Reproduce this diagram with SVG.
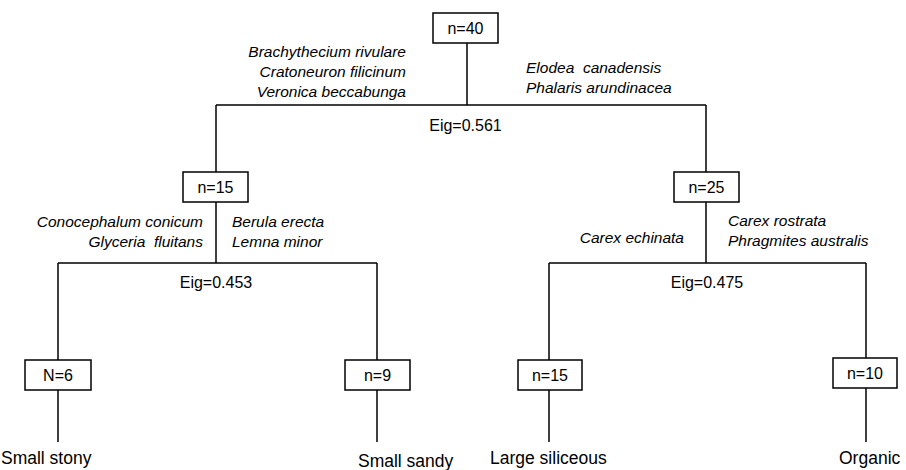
<svg xmlns="http://www.w3.org/2000/svg" width="906" height="470" viewBox="0 0 906 470">
<style>
.ln{stroke:#000;stroke-width:1.5;fill:none}
.bx{stroke:#000;stroke-width:1.5;fill:#fff}
.t{font-family:"Liberation Sans",Arial,sans-serif;font-size:16px;fill:#000}
.c{text-anchor:middle}
.it{font-family:"Liberation Sans",Arial,sans-serif;font-size:15.5px;font-style:italic;fill:#000}
.r{text-anchor:end}
.lb{font-family:"Liberation Sans",Arial,sans-serif;font-size:17.5px;fill:#000}
</style>
<rect width="906" height="470" fill="#fff"/>
<g id="connectors">
<path class="ln" d="M467 43V105M216 105H706M216 105V172M706 105V172"/>
<path class="ln" d="M216 202V263M58 263H377M58 263V360M377 263V360"/>
<path class="ln" d="M706 202V263M549 263H866M549 263V360M866 263V358"/>
<path class="ln" d="M58 390V442M377 390V442M549 390V442M866 388V442"/>
</g>
<g id="root">
<rect class="bx" x="433" y="13" width="65" height="30"/>
<text class="t c" x="465.5" y="34">n=40</text>
</g>
<g id="split1">
<text class="it r" x="406" y="57">Brachythecium rivulare</text>
<text class="it r" x="406" y="77">Cratoneuron filicinum</text>
<text class="it r" x="406" y="97">Veronica beccabunga</text>
<text class="it" x="526" y="73" xml:space="preserve">Elodea  canadensis</text>
<text class="it" x="526" y="93">Phalaris arundinacea</text>
<text class="t c" x="465.5" y="131">Eig=0.561</text>
</g>
<g id="n15a">
<rect class="bx" x="183" y="172" width="65" height="30"/>
<text class="t c" x="215.5" y="193">n=15</text>
</g>
<g id="n25">
<rect class="bx" x="674" y="172" width="65" height="30"/>
<text class="t c" x="706.5" y="193">n=25</text>
</g>
<g id="split2">
<text class="it r" x="203" y="227">Conocephalum conicum</text>
<text class="it r" x="203" y="247" xml:space="preserve">Glyceria  fluitans</text>
<text class="it" x="232" y="227">Berula erecta</text>
<text class="it" x="232" y="247">Lemna minor</text>
<text class="t c" x="216" y="288">Eig=0.453</text>
</g>
<g id="split3">
<text class="it r" x="684" y="243">Carex echinata</text>
<text class="it" x="728" y="226">Carex rostrata</text>
<text class="it" x="728" y="246">Phragmites australis</text>
<text class="t c" x="707" y="288">Eig=0.475</text>
</g>
<g id="n6">
<rect class="bx" x="25" y="360" width="66" height="30"/>
<text class="t c" x="58" y="381">N=6</text>
</g>
<g id="n9">
<rect class="bx" x="345" y="360" width="65" height="30"/>
<text class="t c" x="377.5" y="381">n=9</text>
</g>
<g id="n15b">
<rect class="bx" x="518" y="360" width="64" height="30"/>
<text class="t c" x="550" y="381">n=15</text>
</g>
<g id="n10">
<rect class="bx" x="833" y="358" width="64" height="30"/>
<text class="t c" x="865" y="379">n=10</text>
</g>
<g id="leaves">
<text class="lb" x="1" y="464">Small stony</text>
<text class="lb" x="358" y="467">Small sandy</text>
<text class="lb" x="490" y="464">Large siliceous</text>
<text class="lb" x="839" y="464">Organic</text>
</g>
</svg>
